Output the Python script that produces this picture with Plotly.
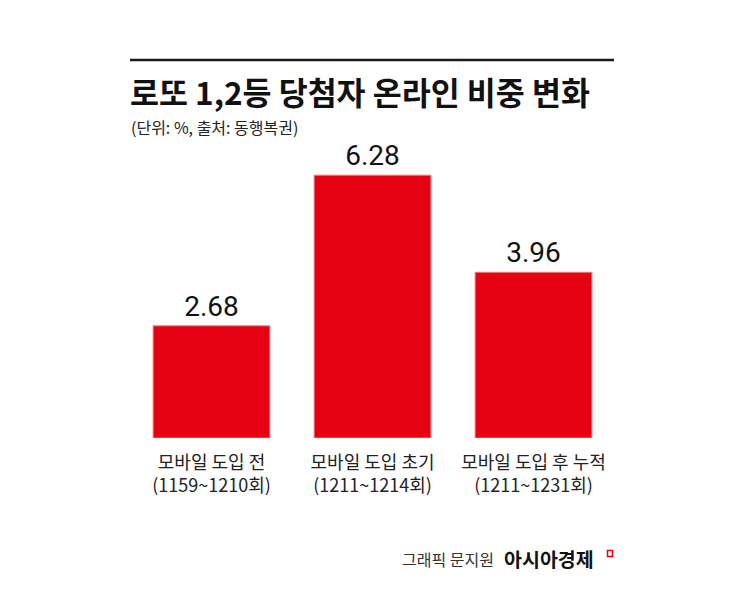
import plotly.graph_objects as go

# ---- data ----
categories = ["모바일 도입 전<br>(1159~1210회)",
              "모바일 도입 초기<br>(1211~1214회)",
              "모바일 도입 후 누적<br>(1211~1231회)"]
values = [2.68, 6.28, 3.96]
value_labels = ["2.68", "6.28", "3.96"]

title_text = "로또 1,2등 당첨자 온라인 비중 변화"
subtitle_text = "(단위: %, 출처: 동행복권)"
credit_text = "그래픽 문지원"
brand_text = "아시아경제"

W, H = 745, 595
ML, MR, MT, MB = 131, 131, 150, 157
PW, PH = W - ML - MR, H - MT - MB

def px(x):
    return (x - ML) / PW

def py(y):
    return (H - MB - y) / PH

KR = "Noto Sans CJK KR, sans-serif"
NUM = "Liberation Sans Narrow, Roboto, Arial, sans-serif"

fig = go.Figure()
fig.add_trace(go.Bar(
    x=categories, y=values,
    text=value_labels, textposition="outside",
    textfont=dict(family=NUM, size=28, color="#111111"),
    marker=dict(color="#E50012", line=dict(color="#F27A7A", width=1)),
    cliponaxis=False,
    width=0.725,
))

fig.update_layout(
    width=W, height=H, autosize=False,
    margin=dict(l=ML, r=MR, t=MT, b=MB, pad=0),
    paper_bgcolor="white", plot_bgcolor="white",
    showlegend=False,
    xaxis=dict(showgrid=False, zeroline=False, showline=False,
               ticks="outside", ticklen=8, tickcolor="rgba(0,0,0,0)",
               tickfont=dict(family=KR, size=18, color="#222222"),
               range=[-0.5, 2.5], fixedrange=True),
    yaxis=dict(visible=False, range=[0, PH / 41.85], fixedrange=True),
    font=dict(family=KR),
)

# top rule
fig.add_shape(type="line", xref="paper", yref="paper",
              x0=px(130), x1=px(614), y0=py(60), y1=py(60),
              line=dict(color="#1a1a1a", width=2.5))

fig.add_annotation(text="<b>" + title_text + "</b>", xref="paper", yref="paper",
                   x=px(128), y=py(91), xanchor="left", yanchor="middle",
                   showarrow=False, font=dict(family=KR, size=31.5, color="#111111"))
fig.add_annotation(text=subtitle_text, xref="paper", yref="paper",
                   x=px(129), y=py(127), xanchor="left", yanchor="middle",
                   showarrow=False, font=dict(family=KR, size=16, color="#222222"))

fig.add_annotation(text=credit_text, xref="paper", yref="paper",
                   x=px(496), y=py(559), xanchor="right", yanchor="middle",
                   showarrow=False, font=dict(family=KR, size=16, color="#333333"))
fig.add_annotation(text="<b>" + brand_text + "</b>", xref="paper", yref="paper",
                   x=px(502), y=py(558), xanchor="left", yanchor="middle",
                   showarrow=False, font=dict(family=KR, size=19.5, color="#111111"))
# small red logo mark
fig.add_shape(type="rect", xref="paper", yref="paper",
              x0=px(607.5), x1=px(612.5), y0=py(556.5), y1=py(550.5),
              line=dict(color="#E50012", width=1.5), fillcolor="rgba(0,0,0,0)")

fig.write_html("out.html")
